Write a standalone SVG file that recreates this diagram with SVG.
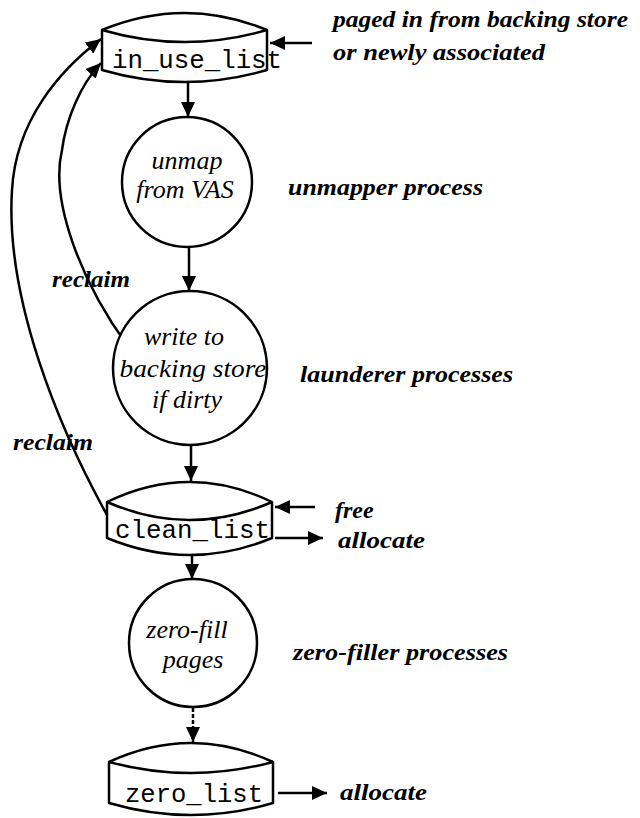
<svg xmlns="http://www.w3.org/2000/svg" width="640" height="818" viewBox="0 0 640 818">
<style>
.shape{fill:#fff;stroke:#000;stroke-width:2.5;stroke-linejoin:round}
.edge{fill:none;stroke:#000;stroke-width:2.5}
.mono{font-family:"Liberation Mono","DejaVu Sans Mono",monospace;font-size:25px;fill:#000}
.it{font-family:"Liberation Serif","DejaVu Serif",serif;font-style:italic;font-size:26px;fill:#000}
.lab{font-family:"Liberation Serif","DejaVu Serif",serif;font-style:italic;font-weight:bold;font-size:24px;fill:#000}
</style>
<defs>
<marker id="ah" markerUnits="userSpaceOnUse" markerWidth="16" markerHeight="14" refX="15" refY="7" orient="auto">
<path d="M0,0 L15,7 L0,14 Z" fill="#000"/>
</marker>
</defs>
<g id="connectors">
<line class="edge" x1="188" y1="83" x2="188" y2="117" marker-end="url(#ah)"/>
<line class="edge" x1="189" y1="248" x2="189" y2="291" marker-end="url(#ah)"/>
<line class="edge" x1="191" y1="445" x2="191" y2="481" marker-end="url(#ah)"/>
<line class="edge" x1="192" y1="555" x2="192" y2="579" marker-end="url(#ah)"/>
<line class="edge" x1="193" y1="708" x2="193" y2="742" stroke-width="2" stroke-dasharray="4 2" marker-end="url(#ah)"/>
<line class="edge" x1="312" y1="43" x2="270" y2="43" marker-end="url(#ah)"/>
<line class="edge" x1="315" y1="507" x2="275" y2="507" marker-end="url(#ah)"/>
<line class="edge" x1="275" y1="538" x2="323" y2="538" marker-end="url(#ah)"/>
<line class="edge" x1="278" y1="793" x2="327" y2="793" marker-end="url(#ah)"/>
<path class="edge" d="M107,515 C60,430 5,300 12,190 C16,120 60,70 101,39" marker-end="url(#ah)"/>
<path class="edge" d="M127,345 C80,280 50,200 62,150 C66,120 80,85 101,63" marker-end="url(#ah)"/>
</g>
<g id="in_use_list">
<path class="shape" d="M102,30 Q184.5,-4 267,30 L267,70 Q184.5,94 102,70 Z"/>
<path class="edge" d="M102,30 Q184.5,54 267,30"/>
<text class="mono" x="112" y="68" textLength="170" lengthAdjust="spacingAndGlyphs">in_use_list</text>
</g>
<g id="unmap">
<circle class="shape" cx="187" cy="182" r="65"/>
<text class="it" x="187" y="169" text-anchor="middle">unmap</text>
<text class="it" x="185" y="198" text-anchor="middle">from VAS</text>
</g>
<g id="write">
<circle class="shape" cx="190" cy="368" r="77"/>
<text class="it" x="184" y="345" text-anchor="middle">write to</text>
<text class="it" x="193" y="377" text-anchor="middle" textLength="147" lengthAdjust="spacingAndGlyphs">backing store</text>
<text class="it" x="187" y="408" text-anchor="middle">if dirty</text>
</g>
<g id="clean_list">
<path class="shape" d="M107,502 Q189.5,462 272,502 L272,538 Q189.5,572 107,538 Z"/>
<path class="edge" d="M107,502 Q189.5,538 272,502"/>
<text class="mono" x="115" y="538" textLength="155" lengthAdjust="spacingAndGlyphs">clean_list</text>
</g>
<g id="zerofill">
<circle class="shape" cx="193" cy="643" r="64"/>
<text class="it" x="187" y="638" text-anchor="middle">zero-fill</text>
<text class="it" x="193" y="668" text-anchor="middle">pages</text>
</g>
<g id="zero_list">
<path class="shape" d="M109,762 Q191,724 273,762 L273,803 Q191,827 109,803 Z"/>
<path class="edge" d="M109,762 Q191,784 273,762"/>
<text class="mono" x="125" y="802" textLength="138" lengthAdjust="spacingAndGlyphs">zero_list</text>
</g>
<g id="labels">
<text class="lab" x="333" y="27" textLength="295" lengthAdjust="spacingAndGlyphs">paged in from backing store</text>
<text class="lab" x="333" y="60" textLength="212" lengthAdjust="spacingAndGlyphs">or newly associated</text>
<text class="lab" x="288" y="195" textLength="195" lengthAdjust="spacingAndGlyphs">unmapper process</text>
<text class="lab" x="300" y="382" textLength="213" lengthAdjust="spacingAndGlyphs">launderer processes</text>
<text class="lab" x="335" y="518">free</text>
<text class="lab" x="338" y="548" textLength="87" lengthAdjust="spacingAndGlyphs">allocate</text>
<text class="lab" x="293" y="660" textLength="215" lengthAdjust="spacingAndGlyphs">zero-filler processes</text>
<text class="lab" x="340" y="800" textLength="87" lengthAdjust="spacingAndGlyphs">allocate</text>
<text class="lab" x="52" y="287" textLength="78" lengthAdjust="spacingAndGlyphs">reclaim</text>
<text class="lab" x="13" y="450" textLength="80" lengthAdjust="spacingAndGlyphs">reclaim</text>
</g>
</svg>
